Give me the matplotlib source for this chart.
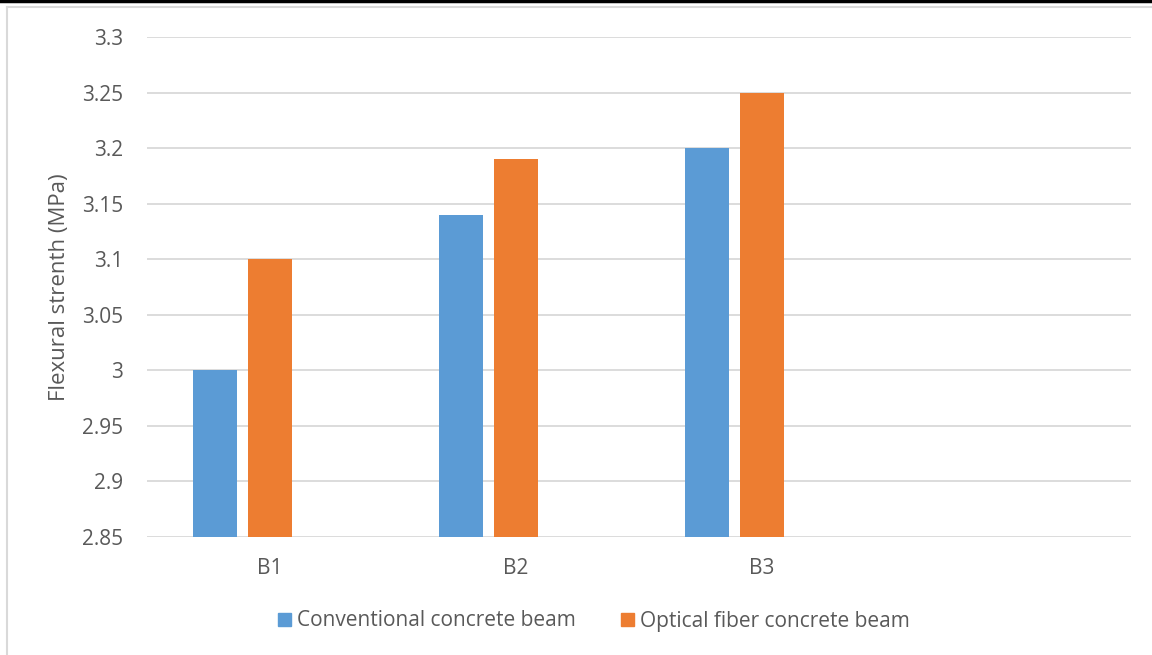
import numpy as np
import matplotlib.pyplot as plt
from matplotlib.patches import Rectangle
from matplotlib.lines import Line2D

# Flexural strength per beam group
categories = ["B1", "B2", "B3", ""]
conventional = [3.00, 3.14, 3.20, np.nan]
optical_fiber = [3.10, 3.19, 3.25, np.nan]
series_names = ["Conventional concrete beam", "Optical fiber concrete beam"]
y_ticks = [2.85, 2.9, 2.95, 3.0, 3.05, 3.1, 3.15, 3.2, 3.25, 3.3]
y_tick_labels = ["2.85", "2.9", "2.95", "3", "3.05", "3.1", "3.15", "3.2", "3.25", "3.3"]

BLUE = "#5b9bd5"
ORANGE = "#ed7d31"
TEXT = "#595959"
GRID = "#d9d9d9"

plt.rcParams["font.family"] = ["Open Sans", "DejaVu Sans"]

fig = plt.figure(figsize=(11.52, 6.55), dpi=100)
W, H = 1152, 655
ax = fig.add_axes([147 / W, 1 - 537 / H, (1131 - 147) / W, (537 - 37) / H])

# three slots per group, the last one left empty
x = np.arange(len(categories))
bw = 0.175
step = 0.2236
ax.bar(x - step, conventional, bw, color=BLUE, label=series_names[0], zorder=3)
ax.bar(x, optical_fiber, bw, color=ORANGE, label=series_names[1], zorder=3)

ax.set_xlim(-0.5, len(categories) - 0.5)
ax.set_ylim(2.85, 3.3)
ax.set_yticks(y_ticks)
ax.set_yticklabels(y_tick_labels)
ax.set_xticks(x)
ax.set_xticklabels(categories)
ax.tick_params(axis="both", length=0, labelsize=15, colors=TEXT)
ax.tick_params(axis="y", pad=17)
ax.tick_params(axis="x", pad=15)
for s in ax.spines.values():
    s.set_visible(False)
ax.grid(axis="y", color=GRID, linewidth=1.3, zorder=0)
fig.text(59 / W, 1 - 287 / H, "Flexural strenth (MPa)", rotation=90,
         ha="center", va="center", fontsize=16, color=TEXT)

# legend below the axis
handles = [Rectangle((0, 0), 1, 1, color=BLUE), Rectangle((0, 0), 1, 1, color=ORANGE)]
fig.legend(handles, series_names, loc="center", bbox_to_anchor=(594 / W, 1 - 621 / H),
           ncol=2, frameon=False, fontsize=15, labelcolor=TEXT,
           handlelength=0.6, handleheight=0.6, handletextpad=0.3, columnspacing=2.2)

# outer chart frame and top rule
fig.add_artist(Line2D([7 / W, 7 / W], [0, 1 - 7 / H], transform=fig.transFigure,
                      color=GRID, linewidth=1.5))
fig.add_artist(Line2D([7 / W, 1], [1 - 7 / H, 1 - 7 / H], transform=fig.transFigure,
                      color=GRID, linewidth=1.5))
fig.add_artist(Line2D([0, 1], [1 - 1 / H, 1 - 1 / H], transform=fig.transFigure,
                      color="black", linewidth=2.5))

fig.savefig("out.png", dpi=100)
